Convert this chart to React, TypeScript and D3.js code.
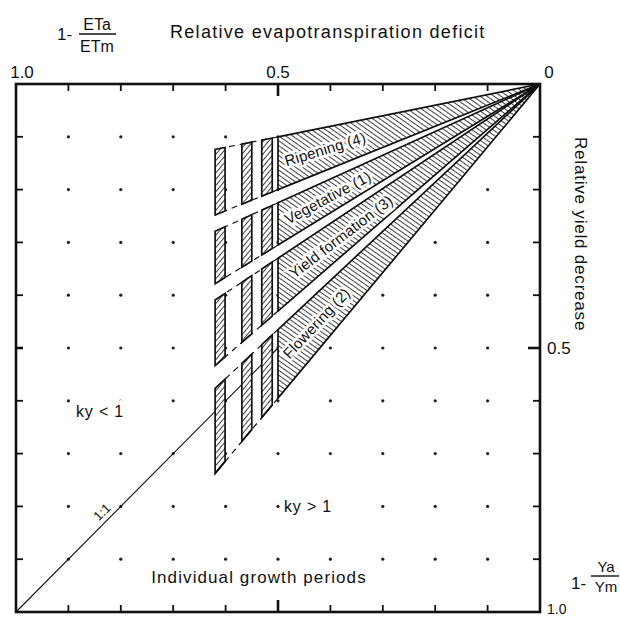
import React from "react";
import * as d3 from "d3";

// ---- data ----
const periods = ["Ripening (4)", "Vegetative (1)", "Yield formation (3)", "Flowering (2)"];
const kyLow = [0.2, 0.45, 0.66, 0.93];
const kyHigh = [0.4, 0.61, 0.86, 1.19];
const labelAt = [0.41, 0.405, 0.38, 0.427]; // relative ET deficit where each label sits
const mainEnd = 0.5;
const barStarts = [0.511, 0.55, 0.601];
const barEnds = [0.531, 0.569, 0.62];
const tickValues = [0, 0.1, 0.2, 0.3, 0.4, 0.5, 0.6, 0.7, 0.8, 0.9, 1.0];
const topTickLabels = ["1.0", "0.5", "0"];
const topTickAt = [1.0, 0.5, 0];
const rightTickLabels = ["0.5", "1.0"];
const rightTickAt = [0.5, 1.0];

const FONT = "'Liberation Sans', Arial, Helvetica, sans-serif";

export default function App() {
  const x = d3.scaleLinear().domain([1, 0]).range([16, 540]);
  const y = d3.scaleLinear().domain([0, 1]).range([84, 612]);
  const pt = (d: number, r: number) => [x(d), y(r)] as [number, number];
  const poly = (pts: [number, number][]) => d3.line()(pts) + "Z";

  const dots: [number, number][] = [];
  tickValues.slice(1, -1).forEach((dv) =>
    tickValues.slice(1, -1).forEach((rv) => dots.push(pt(dv, rv)))
  );

  const halo = { stroke: "#fff", strokeWidth: 5, paintOrder: "stroke" as const };
  const bigHalo = { stroke: "#fff", strokeWidth: 8, paintOrder: "stroke" as const };

  return (
    <svg
      width={620}
      height={620}
      style={{ position: "absolute", left: 0, top: 0, background: "#fff" }}
      fontFamily={FONT}
    >
      <defs>
        <pattern id="hatch" patternUnits="userSpaceOnUse" width={4} height={4} patternTransform="rotate(-55)">
          <line x1={0} y1={0} x2={0} y2={4} stroke="#111" strokeWidth={1.6} />
        </pattern>
        <pattern id="hatchBar" patternUnits="userSpaceOnUse" width={4} height={4} patternTransform="rotate(40)">
          <line x1={0} y1={0} x2={0} y2={4} stroke="#111" strokeWidth={1.6} />
        </pattern>
      </defs>

      {/* grid dots */}
      {dots.map((p, i) => (
        <circle key={i} cx={p[0]} cy={p[1]} r={1.6} fill="#222" />
      ))}

      {/* 1:1 line */}
      <path d={d3.line()([pt(1, 1), pt(mainEnd, mainEnd)])!} stroke="#111" strokeWidth={1.1} fill="none" />

      {/* dashed continuation of wedge edges */}
      {periods.map((p, i) => (
        <g key={"dash" + i}>
          <path d={d3.line()([pt(mainEnd, kyLow[i] * mainEnd), pt(barEnds[2], kyLow[i] * barEnds[2])])!} stroke="#111" strokeWidth={1.2} strokeDasharray="6,5" fill="none" />
          <path d={d3.line()([pt(mainEnd, kyHigh[i] * mainEnd), pt(barEnds[2], kyHigh[i] * barEnds[2])])!} stroke="#111" strokeWidth={1.2} strokeDasharray="6,5" fill="none" />
        </g>
      ))}

      {/* wedges */}
      {periods.map((p, i) => (
        <g key={"w" + i}>
          <path
            d={poly([pt(0, 0), pt(mainEnd, kyLow[i] * mainEnd), pt(mainEnd, kyHigh[i] * mainEnd)])}
            fill="#fff"
          />
          <path
            d={poly([pt(0, 0), pt(mainEnd, kyLow[i] * mainEnd), pt(mainEnd, kyHigh[i] * mainEnd)])}
            fill="url(#hatch)"
            stroke="#111"
            strokeWidth={1.7}
            strokeLinejoin="round"
          />
          {barStarts.map((b0, j) => {
            const b1 = barEnds[j];
            const q = poly([pt(b0, kyLow[i] * b0), pt(b1, kyLow[i] * b1), pt(b1, kyHigh[i] * b1), pt(b0, kyHigh[i] * b0)]);
            return (
              <g key={j}>
                <path d={q} fill="#fff" />
                <path d={q} fill="url(#hatchBar)" stroke="#111" strokeWidth={1.7} />
              </g>
            );
          })}
        </g>
      ))}

      {/* wedge labels */}
      {periods.map((p, i) => {
        const mid = (kyLow[i] + kyHigh[i]) / 2;
        const [lx, ly] = pt(labelAt[i], mid * labelAt[i]);
        const ang = (-Math.atan2(y(mid) - y(0), x(0) - x(1)) * 180) / Math.PI;
        return (
          <text
            key={"l" + i}
            x={lx}
            y={ly}
            transform={`rotate(${ang},${lx},${ly})`}
            textAnchor="middle"
            dominantBaseline="central"
            fontSize={15}
            fill="#111"
            {...halo}
            letterSpacing={0.2}
          >
            {p}
          </text>
        );
      })}

      {/* frame */}
      <rect x={x(1)} y={y(0)} width={x(0) - x(1)} height={y(1) - y(0)} fill="none" stroke="#111" strokeWidth={2.6} />

      {/* ticks */}
      {tickValues.slice(1, -1).map((v, i) => {
        const big = v === 0.5;
        const len = big ? 12 : 7;
        const sw = big ? 2.6 : 1.8;
        return (
          <g key={"t" + i} stroke="#111" strokeWidth={sw}>
            <line x1={x(v)} x2={x(v)} y1={y(0)} y2={y(0) + len} />
            <line x1={x(v)} x2={x(v)} y1={y(1)} y2={y(1) - len} />
            <line x1={x(1)} x2={x(1) + 7} y1={y(v)} y2={y(v)} />
            <line x1={x(0)} x2={x(0) - len} y1={y(v)} y2={y(v)} />
          </g>
        );
      })}

      {/* tick labels */}
      {topTickLabels.map((t, i) => (
        <text key={"tl" + i} x={x(topTickAt[i]) + (i === 0 ? 6 : i === 2 ? 9 : 0)} y={78} textAnchor="middle" fontSize={17} fill="#111">
          {t}
        </text>
      ))}
      {rightTickLabels.map((t, i) => (
        <text key={"rl" + i} x={x(0) + 7} y={y(rightTickAt[i]) - (i === 1 ? 3 : 0)} dominantBaseline="central" fontSize={i === 1 ? 14 : 17} fill="#111">
          {t}
        </text>
      ))}

      {/* axis titles */}
      <text x={57} y={34} fontSize={17} fill="#111" dominantBaseline="central">1-</text>
      <text x={97} y={30} fontSize={16} fill="#111" textAnchor="middle">ETa</text>
      <line x1={79} x2={116} y1={34} y2={34} stroke="#111" strokeWidth={1.4} />
      <text x={97} y={52} fontSize={16} fill="#111" textAnchor="middle">ETm</text>
      <text x={170} y={38} fontSize={18} fill="#111" letterSpacing={1.3}>Relative evapotranspiration deficit</text>

      <text x={575} y={137} fontSize={17} fill="#111" transform="rotate(90,575,137)" letterSpacing={0.8}>Relative yield decrease</text>

      <text x={571} y={583} fontSize={17} fill="#111" dominantBaseline="central">1-</text>
      <text x={606} y={572} fontSize={15} fill="#111" textAnchor="middle">Ya</text>
      <line x1={591} x2={619} y1={576} y2={576} stroke="#111" strokeWidth={1.4} />
      <text x={606} y={592} fontSize={15} fill="#111" textAnchor="middle">Ym</text>

      {/* annotations */}
      <text x={100} y={411} fontSize={16} fill="#111" textAnchor="middle" dominantBaseline="central" letterSpacing={0.8} {...bigHalo}>ky &lt; 1</text>
      <text x={308} y={506} fontSize={16} fill="#111" textAnchor="middle" dominantBaseline="central" letterSpacing={0.8} {...bigHalo}>ky &gt; 1</text>
      <text x={259} y={577} fontSize={17} fill="#111" textAnchor="middle" dominantBaseline="central" letterSpacing={1.1} {...halo}>Individual growth periods</text>
      <text x={102} y={512} fontSize={13} fill="#111" textAnchor="middle" dominantBaseline="central" transform="rotate(-45,102,512)">1:1</text>
    </svg>
  );
}
